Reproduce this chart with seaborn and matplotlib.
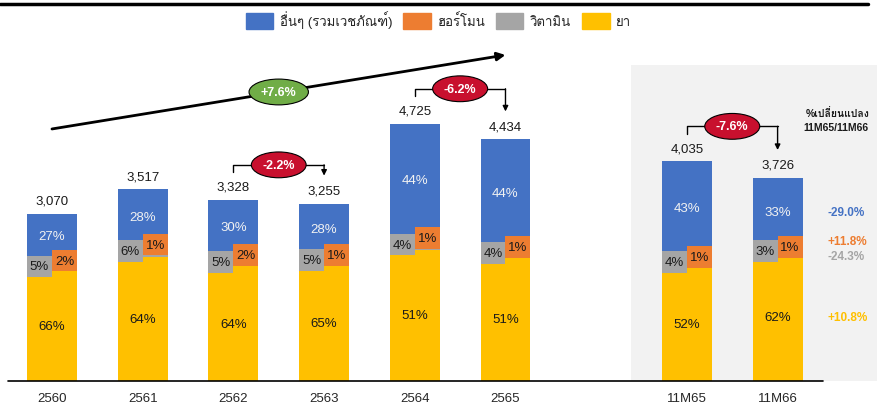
import matplotlib
matplotlib.use("Agg")
import matplotlib.pyplot as plt
import numpy as np
import pandas as pd
import seaborn as sns
from matplotlib import font_manager
from matplotlib.ft2font import FT2Font
from matplotlib.patches import Patch

# --- data ---
categories = ["2560", "2561", "2562", "2563", "2564", "2565", "11M65", "11M66"]
positions = [0, 1, 2, 3, 4, 5, 7, 8]
totals = [3070, 3517, 3328, 3255, 4725, 4434, 4035, 3726]
share_drug = [66, 64, 64, 65, 51, 51, 52, 62]      # ยา
share_vitamin = [5, 6, 5, 5, 4, 4, 4, 3]           # วิตามิน
share_hormone = [2, 1, 2, 1, 1, 1, 1, 1]           # ฮอร์โมน
share_other = [27, 28, 30, 28, 44, 44, 43, 33]     # อื่นๆ (รวมเวชภัณฑ์)

# change between periods: (from index, to index, label)
changes = [(2, 3, "-2.2%"), (4, 5, "-6.2%"), (6, 7, "-7.6%")]
cagr_label = "+7.6%"
yoy_labels = {"other": "-29.0%", "hormone": "+11.8%", "vitamin": "-24.3%", "drug": "+10.8%"}

colors = {"other": "#4472C4", "hormone": "#ED7D31", "vitamin": "#A5A5A5", "drug": "#FFC000"}
names = {"other": "อื่นๆ (รวมเวชภัณฑ์)", "hormone": "ฮอร์โมน", "vitamin": "วิตามิน", "drug": "ยา"}


# --- fonts: find something that can draw Thai ---
def thai_fonts():
    found = []
    for f in font_manager.fontManager.ttflist:
        try:
            cmap = FT2Font(f.fname).get_charmap()
        except Exception:
            continue
        if 0x0E22 in cmap and 0x0E2D in cmap and f.name not in found:
            found.append(f.name)
    return found


sns.set_theme(style="white")
plt.rcParams["font.family"] = ["Liberation Sans"] + thai_fonts() + ["DejaVu Sans"]

# --- stacked values ---
df = pd.DataFrame({"cat": categories, "pos": positions, "total": totals})
scale = df["total"] / np.array([sum(s) for s in zip(share_drug, share_vitamin, share_hormone, share_other)])
df["drug"] = scale * share_drug
df["vitamin"] = scale * share_vitamin
df["hormone"] = scale * share_hormone
df["other"] = scale * share_other
df["b_vitamin"] = df["drug"]
df["b_hormone"] = df["drug"] + df["vitamin"]
df["b_other"] = df["b_hormone"] + df["hormone"]

fig = plt.figure(figsize=(8.77, 4.06), dpi=100)
ax = fig.add_axes([0, 24 / 406, 1, 382 / 406])

bar_w = 0.55
ax.axvspan(6.38, 9.2, ymin=0, ymax=0.827, color="#F2F2F2", zorder=0, lw=0)

layers = [("drug", None), ("vitamin", "b_vitamin"), ("hormone", "b_hormone"), ("other", "b_other")]
for key, bot in layers:
    kw = {} if bot is None else {"bottom": df[bot].values}
    sns.barplot(x=df["pos"], y=df[key], native_scale=True, color=colors[key],
                width=bar_w, errorbar=None, saturation=1, ax=ax, zorder=2,
                linewidth=0, edgecolor="none", **kw)

# label boxes for the thin segments (vitamin left half, hormone right half)
box_h = 400
vit_mid = df["b_vitamin"] + df["vitamin"] / 2
hor_mid = df["b_hormone"] + df["hormone"] / 2
ax.bar(df["pos"] - bar_w / 4, box_h, bottom=vit_mid - box_h / 2, width=bar_w / 2,
       color=colors["vitamin"], zorder=3, lw=0)
ax.bar(df["pos"] + bar_w / 4, box_h, bottom=hor_mid - box_h / 2, width=bar_w / 2,
       color=colors["hormone"], zorder=3, lw=0)

fs = 9.5
for i, r in df.iterrows():
    x = r["pos"]
    ax.text(x, r["drug"] / 2, f"{share_drug[i]}%", ha="center", va="center", fontsize=fs, color="#1a1a1a", zorder=4)
    ax.text(x, r["b_other"] + r["other"] / 2, f"{share_other[i]}%", ha="center", va="center",
            fontsize=fs, color="#F2F2F2", zorder=4)
    ax.text(x - bar_w / 4, vit_mid[i], f"{share_vitamin[i]}%", ha="center", va="center", fontsize=fs,
            color="#1a1a1a", zorder=4)
    ax.text(x + bar_w / 4, hor_mid[i], f"{share_hormone[i]}%", ha="center", va="center", fontsize=fs,
            color="#1a1a1a", zorder=4)
    ax.text(x, r["total"] + 240, f"{r['total']:,}", ha="center", va="center", fontsize=fs, color="#1a1a1a")

# brackets with change ellipses
red = "#C8102E"
for a, b, lab in changes:
    xa, xb = positions[a], positions[b]
    yb = totals[a] + 640
    ax.plot([xa, xa, xb], [yb - 140, yb, yb], color="black", lw=1, zorder=5)
    ax.annotate("", xy=(xb, totals[b] + 515), xytext=(xb, yb),
                arrowprops=dict(arrowstyle="-|>", color="black", lw=1, mutation_scale=8,
                                shrinkA=0, shrinkB=0), zorder=5)
    ax.text((xa + xb) / 2, yb, lab, ha="center", va="center", fontsize=9, color="white",
            fontweight="bold", zorder=6,
            bbox=dict(boxstyle="ellipse,pad=0.25", fc=red, ec="black", lw=0.8))

# long trend arrow 2560 -> 2565
ax.annotate("", xy=(5.0, 5985), xytext=(0.0, 4627),
            arrowprops=dict(arrowstyle="-|>", color="black", lw=2, mutation_scale=12,
                            shrinkA=0, shrinkB=0), zorder=5)
ax.text(2.5, 5306, cagr_label, ha="center", va="center", fontsize=9, color="white",
        fontweight="bold", zorder=6,
        bbox=dict(boxstyle="ellipse,pad=0.25", fc="#70AD47", ec="black", lw=0.8))

# yoy changes next to 11M66
last = df.iloc[-1]
xr = 8.55
yfs = 8.5
ax.text(xr, last["b_other"] + last["other"] / 2, yoy_labels["other"], color=colors["other"],
        fontsize=yfs, fontweight="bold", va="center")
ax.text(xr, hor_mid.iloc[-1] + 110, yoy_labels["hormone"], color=colors["hormone"],
        fontsize=yfs, fontweight="bold", va="center")
ax.text(xr, vit_mid.iloc[-1] - 90, yoy_labels["vitamin"], color=colors["vitamin"],
        fontsize=yfs, fontweight="bold", va="center")
ax.text(xr, last["drug"] / 2, yoy_labels["drug"], color=colors["drug"],
        fontsize=yfs, fontweight="bold", va="center")
ax.text(8.31, 4920, "%เปลี่ยนแปลง", ha="left", va="center", fontsize=7.5,
        fontweight="bold", color="#1a1a1a")
ax.text(8.28, 4663, "11M65/11M66", ha="left", va="center", fontsize=7.5,
        fontweight="bold", color="#1a1a1a")

# axes cosmetics
ax.plot([-0.485, 8.5], [0, 0], color="black", lw=1.2, zorder=6, clip_on=False)
ax.set_xlim(-0.573, 9.096)
ax.set_ylim(0, 7013)
ax.set_xticks(positions)
ax.set_xticklabels(categories, fontsize=fs)
ax.tick_params(axis="x", length=0, pad=8)
ax.set_yticks([])
ax.set_xlabel("")
ax.set_ylabel("")
for s in ax.spines.values():
    s.set_visible(False)
ax.patch.set_alpha(0)

# top rule and legend
fig.add_artist(plt.Line2D([0, 0.99], [0.988, 0.988], color="black", lw=2.5))
handles = [Patch(color=colors[k], label=names[k]) for k in ["other", "hormone", "vitamin", "drug"]]
fig.legend(handles=handles, loc="center", bbox_to_anchor=(0.5, 0.95), ncol=4, frameon=False,
           fontsize=fs, handlelength=2.1, handleheight=1.5, columnspacing=0.8, handletextpad=0.5)

fig.savefig("out.png", dpi=100)
